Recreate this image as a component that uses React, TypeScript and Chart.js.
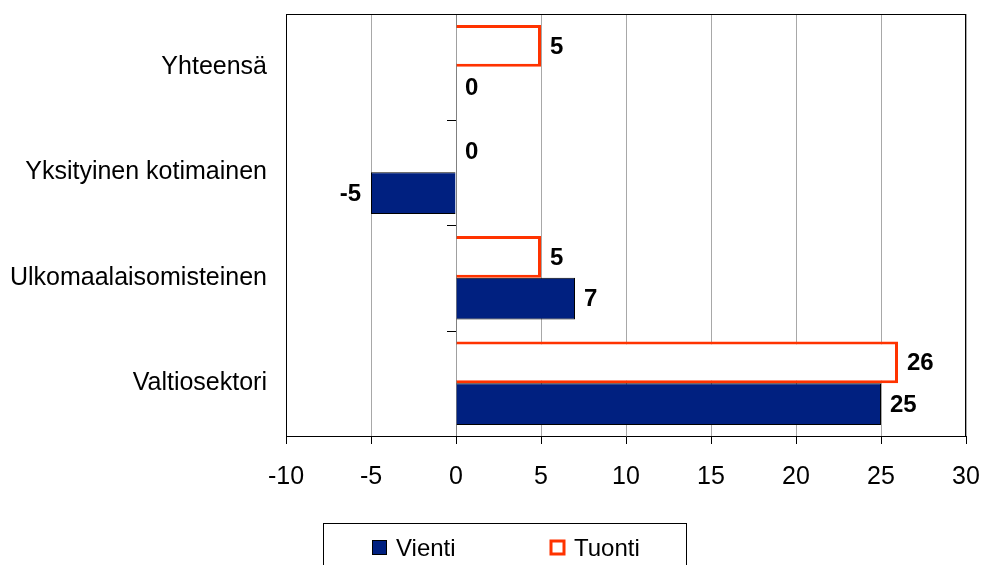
import React, { useEffect, useRef } from 'react';
import { Chart, registerables } from 'chart.js';

Chart.register(...registerables);

const categories = ['Yhteensä', 'Yksityinen kotimainen', 'Ulkomaalaisomisteinen', 'Valtiosektori'];
const vientiValues = [0, -5, 7, 25];
const tuontiValues = [5, 0, 5, 26];
const xTicks = [-10, -5, 0, 5, 10, 15, 20, 25, 30];
const legendNames = ['Vienti', 'Tuonti'];

const FAMILY = "'Liberation Sans', Arial, sans-serif";
const VIENTI_FILL = '#002080';
const TUONTI_BORDER = '#FF3300';

const frameAndTicks = {
  id: 'frameAndTicks',
  afterDraw(chart: any) {
    const { ctx, chartArea } = chart;
    const { left, right, top, bottom } = chartArea;
    ctx.save();
    ctx.strokeStyle = '#000';
    ctx.lineWidth = 1;
    ctx.beginPath();
    ctx.moveTo(left, top + 0.5);
    ctx.lineTo(right, top + 0.5);
    ctx.moveTo(right - 0.5, top);
    ctx.lineTo(right - 0.5, bottom);
    ctx.stroke();
    // category boundary tick marks at the zero crossing
    const x0 = Math.round(chart.scales.x.getPixelForValue(0));
    const n = chart.data.labels.length;
    const band = (bottom - top) / n;
    ctx.beginPath();
    for (let i = 0; i <= n; i++) {
      const y = Math.round(top + i * band) + 0.5;
      ctx.moveTo(x0 - 9, y);
      ctx.lineTo(x0, y);
    }
    ctx.stroke();
    ctx.restore();
  },
};

const valueLabels = {
  id: 'valueLabels',
  afterDatasetsDraw(chart: any) {
    const ctx = chart.ctx;
    ctx.save();
    ctx.font = `bold 24px ${FAMILY}`;
    ctx.fillStyle = '#000';
    ctx.textBaseline = 'middle';
    chart.data.datasets.forEach((ds: any, di: number) => {
      const meta = chart.getDatasetMeta(di);
      meta.data.forEach((el: any, i: number) => {
        const v = ds.data[i];
        const { x, y } = el.getProps(['x', 'y'], true);
        if (v < 0) {
          ctx.textAlign = 'right';
          ctx.fillText(String(v), x - 10, y + 1);
        } else {
          ctx.textAlign = 'left';
          ctx.fillText(String(v), x + 9, y + 1);
        }
      });
    });
    ctx.restore();
  },
};

const boxLegend = {
  id: 'boxLegend',
  afterDraw(chart: any) {
    const ctx = chart.ctx;
    ctx.save();
    ctx.strokeStyle = '#000';
    ctx.lineWidth = 1;
    ctx.strokeRect(323.5, 523.5, 363, 60);
    ctx.font = `24px ${FAMILY}`;
    ctx.fillStyle = '#000';
    ctx.textBaseline = 'middle';
    ctx.textAlign = 'left';
    // Vienti
    ctx.fillStyle = VIENTI_FILL;
    ctx.fillRect(372, 540, 14, 14);
    ctx.strokeStyle = '#000';
    ctx.strokeRect(372.5, 540.5, 14, 14);
    ctx.fillStyle = '#000';
    ctx.fillText(legendNames[0], 396, 549);
    // Tuonti
    ctx.strokeStyle = TUONTI_BORDER;
    ctx.lineWidth = 3;
    ctx.strokeRect(551, 541, 13, 13);
    ctx.fillStyle = '#000';
    ctx.fillText(legendNames[1], 574, 549);
    ctx.restore();
  },
};

export default function App() {
  const canvasRef = useRef<HTMLCanvasElement | null>(null);

  useEffect(() => {
    if (!canvasRef.current) return;
    const chart = new Chart(canvasRef.current, {
      type: 'bar',
      data: {
        labels: categories,
        datasets: [
          {
            label: legendNames[1],
            data: tuontiValues,
            backgroundColor: '#FFFFFF',
            borderColor: TUONTI_BORDER,
            borderWidth: 3,
            categoryPercentage: 0.79,
            barPercentage: 1,
          },
          {
            label: legendNames[0],
            data: vientiValues,
            backgroundColor: VIENTI_FILL,
            borderColor: '#000000',
            borderWidth: 1,
            categoryPercentage: 0.79,
            barPercentage: 1,
          },
        ],
      },
      options: {
        indexAxis: 'y',
        animation: false,
        responsive: true,
        maintainAspectRatio: false,
        layout: { padding: { top: 14, right: 15, left: 0, bottom: 0 } },
        plugins: {
          legend: { display: false },
          tooltip: { enabled: false },
        },
        scales: {
          x: {
            type: 'linear',
            min: xTicks[0],
            max: xTicks[xTicks.length - 1],
            afterBuildTicks: (scale: any) => {
              scale.ticks = xTicks.map((v) => ({ value: v }));
            },
            ticks: {
              font: { size: 25, family: FAMILY },
              color: '#000',
              padding: 18,
              maxRotation: 0,
              autoSkip: false,
            },
            grid: {
              color: (c: any) => (c.tick && c.tick.value === 0 ? '#808080' : '#A8A8A8'),
              tickColor: '#000',
              tickLength: 8,
              lineWidth: 1,
            },
            border: { color: '#000', width: 1 },
            afterFit: (scale: any) => {
              scale.height = 129;
              scale.paddingLeft = 0;
              scale.paddingRight = 0;
            },
          },
          y: {
            ticks: {
              font: { size: 25, family: FAMILY },
              color: '#000',
              padding: 19,
            },
            grid: { display: false, drawTicks: false },
            border: { color: '#000', width: 1 },
            afterFit: (scale: any) => {
              scale.width = 286;
              scale.paddingTop = 0;
              scale.paddingBottom = 0;
            },
          },
        },
      } as any,
      plugins: [frameAndTicks, valueLabels, boxLegend],
    });
    return () => chart.destroy();
  }, []);

  return (
    <div style={{ position: 'absolute', left: 0, top: 0, width: 981, height: 565 }}>
      <canvas ref={canvasRef} />
    </div>
  );
}
